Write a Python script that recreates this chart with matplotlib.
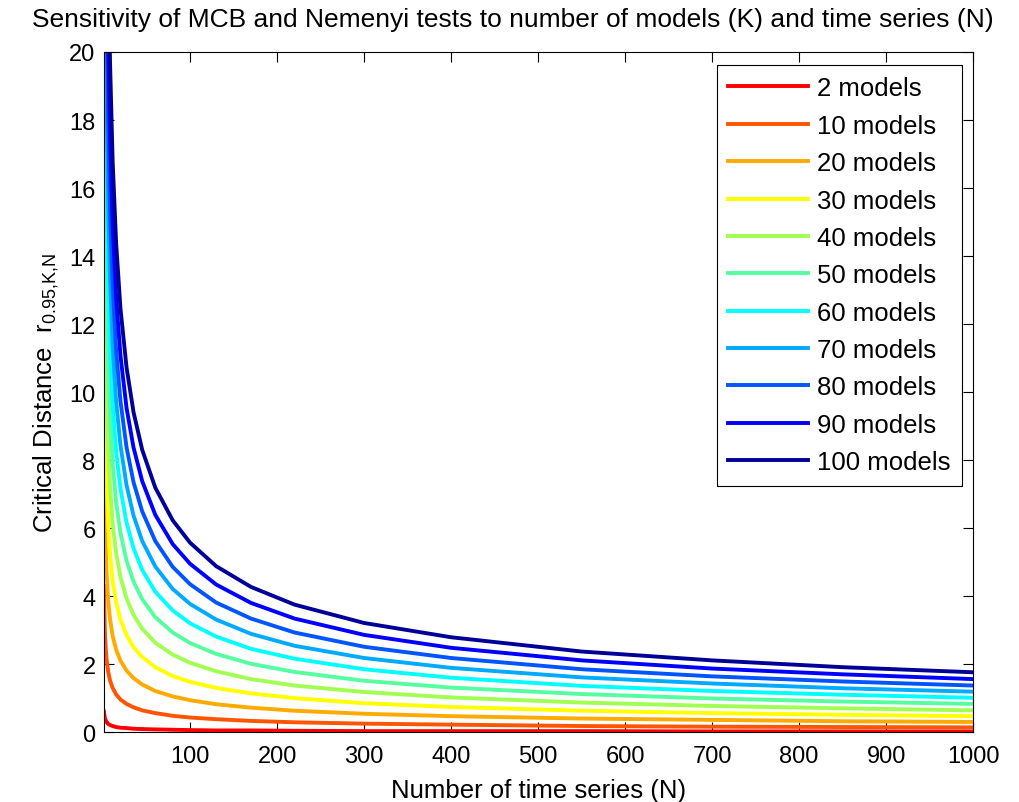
#!/usr/bin/env python3
"""Critical distance of MCB / Nemenyi tests vs number of series, one curve per model count."""

import matplotlib
matplotlib.use("Agg")
import matplotlib.pyplot as plt

plt.rcParams["font.family"] = ["Liberation Sans", "DejaVu Sans"]

N_SERIES = [1, 2, 3, 4, 6, 8, 11, 15, 20, 27, 35, 45, 60, 80, 100,
            130, 170, 220, 300, 400, 550, 700, 850, 1000]

MODEL_COUNTS = [2, 10, 20, 30, 40, 50, 60, 70, 80, 90, 100]

CD_2 = [0.6, 0.42, 0.35, 0.30, 0.24, 0.21, 0.18, 0.15, 0.13, 0.12, 0.10, 0.09,
        0.08, 0.07, 0.06, 0.05, 0.05, 0.04, 0.03, 0.03, 0.03, 0.02, 0.02, 0.02]
CD_10 = [4.3, 3.04, 2.48, 2.15, 1.76, 1.52, 1.30, 1.11, 0.96, 0.83, 0.73, 0.64,
         0.56, 0.48, 0.43, 0.38, 0.33, 0.29, 0.25, 0.22, 0.18, 0.16, 0.15, 0.14]
CD_20 = [9.4, 6.65, 5.43, 4.70, 3.84, 3.32, 2.83, 2.43, 2.10, 1.81, 1.59, 1.40,
         1.21, 1.05, 0.94, 0.82, 0.72, 0.63, 0.54, 0.47, 0.40, 0.36, 0.32, 0.30]
CD_30 = [14.8, 10.47, 8.55, 7.40, 6.04, 5.23, 4.46, 3.82, 3.31, 2.85, 2.50, 2.21,
         1.91, 1.65, 1.48, 1.30, 1.14, 1.00, 0.85, 0.74, 0.63, 0.56, 0.51, 0.47]
CD_40 = [20.4, 14.42, 11.78, 10.20, 8.33, 7.21, 6.15, 5.27, 4.56, 3.93, 3.45, 3.04,
         2.63, 2.28, 2.04, 1.79, 1.56, 1.37, 1.18, 1.02, 0.87, 0.77, 0.70, 0.64]
CD_50 = [26.2, 18.53, 15.13, 13.10, 10.69, 9.26, 7.90, 6.76, 5.86, 5.04, 4.43, 3.91,
         3.38, 2.93, 2.62, 2.30, 2.01, 1.77, 1.51, 1.31, 1.12, 0.99, 0.90, 0.83]
CD_60 = [32.0, 22.63, 18.48, 16.00, 13.06, 11.32, 9.65, 8.26, 7.16, 6.16, 5.41, 4.77,
         4.13, 3.58, 3.20, 2.81, 2.45, 2.16, 1.85, 1.60, 1.36, 1.21, 1.10, 1.01]
CD_70 = [37.7, 26.66, 21.77, 18.85, 15.39, 13.33, 11.37, 9.73, 8.43, 7.26, 6.37, 5.62,
         4.87, 4.21, 3.77, 3.31, 2.89, 2.54, 2.18, 1.89, 1.61, 1.43, 1.29, 1.19]
CD_80 = [43.5, 30.76, 25.12, 21.75, 17.76, 15.38, 13.12, 11.23, 9.73, 8.37, 7.35, 6.49,
         5.62, 4.86, 4.35, 3.81, 3.34, 2.93, 2.51, 2.18, 1.85, 1.64, 1.49, 1.37]
CD_90 = [49.5, 35.00, 28.58, 24.75, 20.21, 17.50, 14.92, 12.78, 11.07, 9.53, 8.37, 7.38,
         6.39, 5.53, 4.95, 4.34, 3.80, 3.34, 2.86, 2.48, 2.11, 1.87, 1.70, 1.56]
CD_100 = [55.7, 39.39, 32.16, 27.85, 22.74, 19.70, 16.79, 14.38, 12.45, 10.72, 9.41, 8.30,
          7.19, 6.23, 5.57, 4.88, 4.27, 3.75, 3.21, 2.79, 2.37, 2.11, 1.91, 1.76]

CURVES = [CD_2, CD_10, CD_20, CD_30, CD_40, CD_50, CD_60, CD_70, CD_80, CD_90, CD_100]
COLORS = ["#FF0000", "#FF5500", "#FFAA00", "#FFFF00", "#A0FF50", "#55FFA0",
          "#00FFFF", "#00AAFF", "#0055FF", "#0000FF", "#000099"]


def main() -> None:
    fig = plt.figure(figsize=(10.19, 8.03), dpi=100)
    ax = fig.add_axes([0.102, 0.087, 0.853, 0.847])

    for k, values, color in zip(MODEL_COUNTS, CURVES, COLORS):
        ax.plot(N_SERIES, values, color=color, lw=2.8, label=f"{k} models",
                solid_joinstyle="miter")

    ax.set_xlim(1, 1000)
    ax.set_ylim(0, 20)
    ax.set_xticks(range(100, 1001, 100))
    ax.set_yticks(range(0, 21, 2))
    ax.tick_params(direction="in", top=True, right=True, length=7, width=0.8,
                   labelsize=17)
    ax.tick_params(axis="x", pad=9)
    ax.tick_params(axis="y", pad=6)
    for spine in ax.spines.values():
        spine.set_linewidth(0.8)

    # title sits centred on the figure, not on the axes
    fig.text(0.503, 0.975, "Sensitivity of MCB and Nemenyi tests to number of models (K) and time series (N)",
             fontsize=19, ha="center", va="center")
    ax.set_xlabel("Number of time series (N)", fontsize=18.5, labelpad=8)
    ax.set_ylabel(r"Critical Distance  $\mathregular{r_{0.95{,}K{,}N}}$", fontsize=18.5,
                  labelpad=6)

    leg = ax.legend(loc="upper right", bbox_to_anchor=(0.987, 0.981), borderaxespad=0,
                    fontsize=18.5, handlelength=3.1, handletextpad=0.35,
                    labelspacing=0.52, borderpad=0.45, fancybox=False, framealpha=1)
    leg.get_frame().set_edgecolor("black")
    leg.get_frame().set_linewidth(0.8)

    fig.savefig("out.png", dpi=100)
    plt.close(fig)


if __name__ == "__main__":
    main()
